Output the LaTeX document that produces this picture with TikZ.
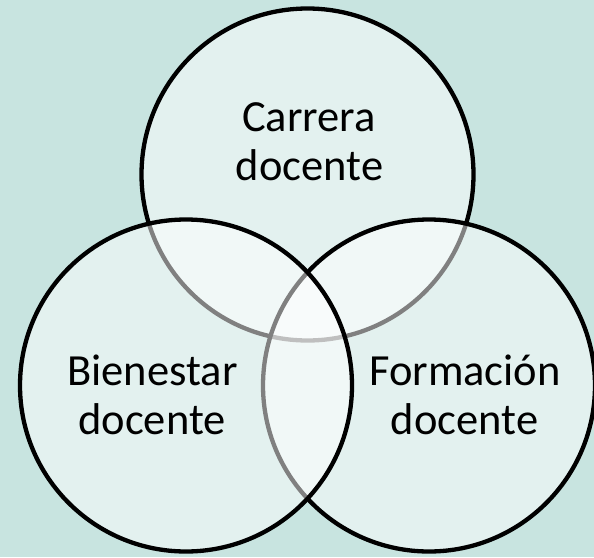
\documentclass[tikz,border=0pt]{standalone}
\usepackage{fontspec}
\setmainfont{Carlito}
\definecolor{bgc}{RGB}{200,228,224}
\tikzset{
  venn/.style={circle, draw=black, line width=4.3pt, fill=white, fill opacity=0.5, draw opacity=1, minimum size=332pt, inner sep=0pt},
  lbl/.style={anchor=base, inner sep=0pt, text=black, font=\fontsize{44.5}{49}\selectfont}
}
\begin{document}
\begin{tikzpicture}[x=1pt,y=-1pt]
\fill[bgc] (0,0) rectangle (594,557);
\useasboundingbox (0,0) rectangle (594,557);
\node[venn] (carrera) at (307.5,174.5) {};
\node[venn] (formacion) at (429,385.5) {};
\node[venn] (bienestar) at (186,385.5) {};
\node[lbl] (t1a) at (309,131) {Carrera};
\node[lbl] (t1b) at (309.5,180) {docente};
\node[lbl] (t2a) at (152.5,385) {Bienestar};
\node[lbl] (t2b) at (152,434) {docente};
\node[lbl] (t3a) at (465,385) {Formación};
\node[lbl] (t3b) at (464.5,434) {docente};
\end{tikzpicture}
\end{document}
